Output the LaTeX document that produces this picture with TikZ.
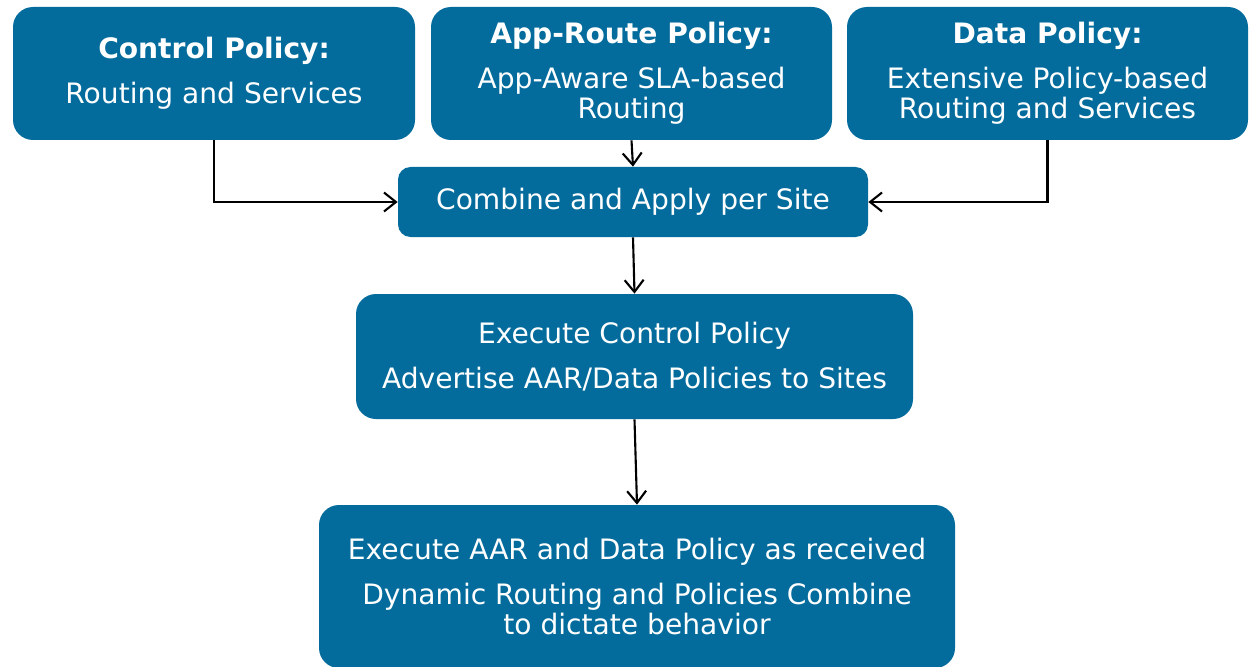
\documentclass[tikz,border=0pt]{standalone}
\usepackage{fontspec}
\setmainfont{DejaVu Sans}
\usepackage{tikz}
\usetikzlibrary{arrows.meta}
\definecolor{policyblue}{HTML}{046C9C}

\begin{document}
\begin{tikzpicture}[
    box/.style={fill=policyblue, text=white, rounded corners=0.4cm, align=center,
                inner sep=0pt, font=\fontsize{16}{17}\selectfont},
    flow/.style={-{Straight Barb[length=0.24cm,width=0.38cm]}, line width=1.2pt, black}]
        \clip (0,0) rectangle (25.02,-13.34);
        %% policy boxes on top
        \node[box, minimum width=8.04cm, minimum height=2.66cm] (ctrl) at ( 4.28,-1.47)
            {\textbf{Control Policy:}\\[8.5pt] Routing and Services};
        \node[box, minimum width=8.02cm, minimum height=2.66cm] (approute) at (12.63,-1.47)
            {\textbf{App-Route Policy:}\\[8.5pt] App-Aware SLA-based\\ Routing};
        \node[box, minimum width=8.02cm, minimum height=2.66cm] (data) at (20.95,-1.47)
            {\textbf{Data Policy:}\\[8.5pt] Extensive Policy-based\\ Routing and Services};
        %% flow down the middle
        \node[box, rounded corners=0.25cm, minimum width=9.4cm, minimum height=1.4cm] (combine) at (12.66,-4.04)
            {Combine and Apply per Site};
        \node[box, minimum width=11.14cm, minimum height=2.5cm] (execctrl) at (12.69,-7.13)
            {Execute Control Policy\\[8.5pt] Advertise AAR/Data Policies to Sites};
        \node[box, minimum width=12.72cm, minimum height=3.26cm] (execaar) at (12.74,-11.73)
            {Execute AAR and Data Policy as received\\[8.5pt]
             Dynamic Routing and Policies Combine\\ to dictate behavior};
        \draw[flow] (ctrl.south) |- (combine.west);
        \draw[flow] (data.south) |- (combine.east);
        \draw[flow] (approute.south) -- (combine.north);
        \draw[flow] (combine.south) -- (execctrl.north);
        \draw[flow] (execctrl.south) -- (execaar.north);
\end{tikzpicture}
\end{document}
